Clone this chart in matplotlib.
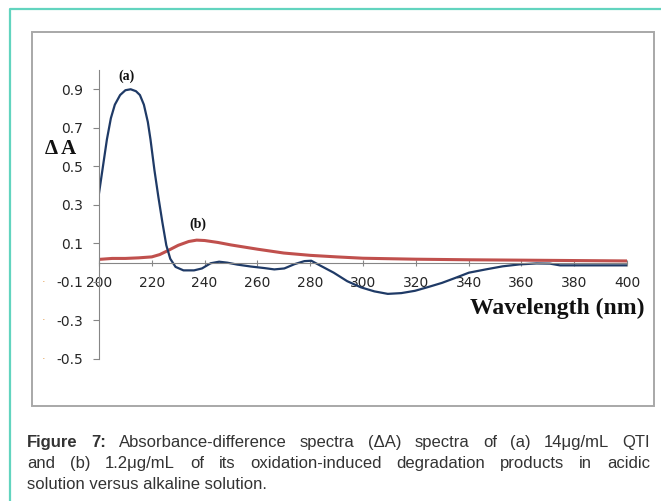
import numpy as np
import matplotlib
matplotlib.use('Agg')
import matplotlib.pyplot as plt
from matplotlib.lines import Line2D
from matplotlib.patches import Rectangle
from matplotlib.ticker import FuncFormatter

plt.rcParams['axes.unicode_minus'] = False

# 数据：ΔA 光谱
wl_a = [200, 201.5, 203, 204.5, 206, 208, 210, 212, 214, 215.5, 217, 218.5,
        219.5, 221, 222.5, 224, 225.5, 227, 229, 232, 236, 239, 242.3, 245.5,
        248.6, 252.4, 257.5, 262.6, 266.4, 270.2, 274, 277.8, 280.4, 283.8,
        288.9, 294, 299.2, 304.3, 309.4, 314.5, 319.7, 324.8, 329.9, 335,
        340.1, 346.5, 352.9, 359.3, 365.7, 370.8, 374.6, 384.8, 400]
da_a = [0.36, 0.50, 0.64, 0.75, 0.82, 0.87, 0.895, 0.90, 0.89, 0.87, 0.82, 0.73,
        0.64, 0.48, 0.34, 0.21, 0.09, 0.02, -0.022, -0.04, -0.04, -0.03, -0.003, 0.005,
        0.0, -0.01, -0.02, -0.028, -0.035, -0.03, -0.008, 0.008, 0.01, -0.015,
        -0.052, -0.096, -0.128, -0.149, -0.162, -0.158, -0.146, -0.126, -0.105, -0.079,
        -0.052, -0.035, -0.019, -0.009, -0.004, -0.005, -0.014, -0.014, -0.014]

wl_b = [200, 205, 210, 215, 220, 223, 226, 230, 234, 237, 240, 245, 250,
        260, 270, 280, 290, 300, 320, 340, 360, 380, 400]
da_b = [0.017, 0.022, 0.022, 0.025, 0.03, 0.042, 0.062, 0.09, 0.11, 0.117, 0.115,
        0.105, 0.092, 0.07, 0.05, 0.038, 0.03, 0.023, 0.018, 0.015, 0.013, 0.011, 0.009]

x_ticks = list(range(200, 401, 20))
y_ticks = [-0.5, -0.3, -0.1, 0.1, 0.3, 0.5, 0.7, 0.9]

caption_1 = [("Figure", "bold"), ("7:", "bold"), ("Absorbance-difference", "normal"),
             ("spectra", "normal"), ("(ΔA)", "normal"), ("spectra", "normal"),
             ("of", "normal"), ("(a)", "normal"), ("14μg/mL", "normal"), ("QTI", "normal")]
caption_2 = "and (b) 1.2μg/mL of its oxidation-induced degradation products in acidic"
caption_3 = "solution versus alkaline solution."

W, H = 661, 501
fig = plt.figure(figsize=(W / 100, H / 100), dpi=100)

# 外框（青色）和图框（灰色）
fig.add_artist(Line2D([10 / W, 10 / W, 1], [0, 1 - 8.5 / H, 1 - 8.5 / H],
                      transform=fig.transFigure, color='#62d4bf', lw=1.6))
fig.add_artist(Rectangle((31.5 / W, (H - 406) / H), (654.3 - 31.5) / W, (406 - 31.5) / H,
                         fill=False, edgecolor='#a8a8a8', lw=1.4, transform=fig.transFigure))

ax = fig.add_axes([99 / W, (H - 359) / H, (627 - 99) / W, (359 - 70) / H])
ax.plot(wl_b, da_b, color='#c0504d', lw=2.2, solid_capstyle='butt')
ax.plot(wl_a, da_a, color='#1f3a66', lw=1.6)

ax.set_xlim(200, 400)
ax.set_ylim(-0.5, 1.0)
ax.set_xticks(x_ticks)
ax.set_yticks(y_ticks)
ax.yaxis.set_major_formatter(FuncFormatter(lambda v, p: f"{v:.1f}"))

for s in ['top', 'right']:
    ax.spines[s].set_visible(False)
ax.spines['bottom'].set_position(('data', 0))
for s in ['left', 'bottom']:
    ax.spines[s].set_color('#868686')
    ax.spines[s].set_linewidth(0.8)

ax.tick_params(axis='y', direction='out', length=4.5, width=0.8, color='#868686',
               labelsize=10, labelcolor='#262626', pad=7)
ax.tick_params(axis='x', direction='inout', length=4, width=0.8, color='#868686',
               labelsize=10, labelcolor='#262626', pad=7.5)
for lab in ax.get_xticklabels() + ax.get_yticklabels():
    lab.set_family('DejaVu Sans')

# 负刻度标签左边的小橙点
for v in [-0.1, -0.3, -0.5]:
    ax.text(-0.105, v, "·", transform=ax.get_yaxis_transform(), ha='center', va='center',
            fontsize=8, color='#e39a4a')

ax.text(210.5, 0.965, "(a)", ha='center', va='center', fontsize=10,
        fontweight='bold', family='Liberation Serif', color='#111111')
ax.text(237.5, 0.2, "(b)", ha='center', va='center', fontsize=10,
        fontweight='bold', family='Liberation Serif', color='#111111')

fig.text(61 / W, 1 - 149 / H, "Δ A", ha='center', va='center', fontsize=15,
         fontweight='bold', family='Liberation Serif', color='#111111')
fig.text(557 / W, 1 - 308 / H, "Wavelength (nm)", ha='center', va='center', fontsize=17,
         fontweight='bold', family='Liberation Serif', color='#111111')

# 图注：两端对齐
renderer = fig.canvas.get_renderer()
cap_kw = dict(family='Liberation Sans', fontsize=12, color='#333333', va='baseline')
x_left, x_right = 27, 650


def justify_line(words, baseline):
    texts = []
    for w, weight in words:
        t = fig.text(0, 1 - baseline / H, w, fontweight=weight, **cap_kw)
        texts.append(t)
    widths = [t.get_window_extent(renderer).width for t in texts]
    gap = (x_right - x_left - sum(widths)) / (len(texts) - 1)
    x = x_left
    for t, wd in zip(texts, widths):
        t.set_x(x / W)
        x += wd + gap


justify_line(caption_1, 447)
justify_line([(w, 'normal') for w in caption_2.split()], 468)
fig.text(x_left / W, 1 - 489 / H, caption_3, **cap_kw)

fig.savefig('out.png', dpi=100)
